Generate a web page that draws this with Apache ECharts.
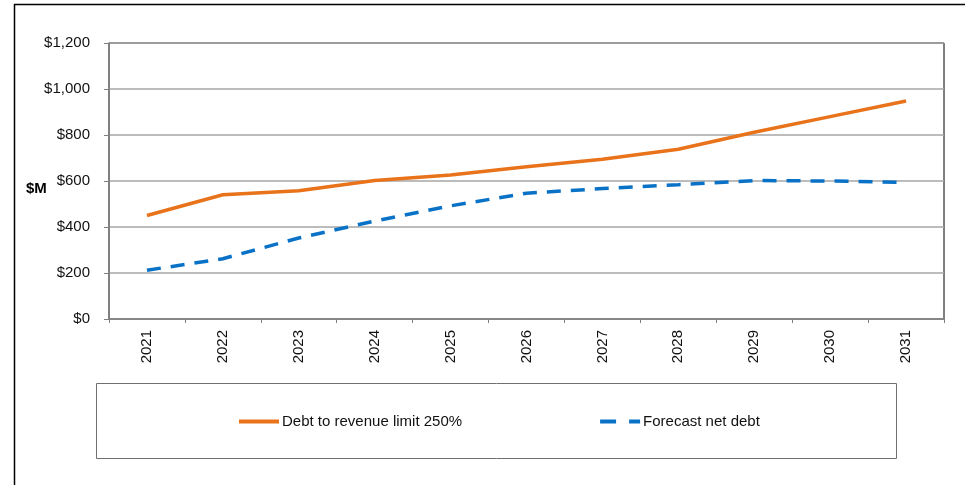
<!DOCTYPE html>
<html>
<head>
<meta charset="utf-8">
<script src="https://cdn.jsdelivr.net/npm/echarts@6/dist/echarts.min.js"></script>
<style>
  html, body { margin: 0; padding: 0; background: #fff; }
  #chart { width: 965px; height: 485px; }
</style>
</head>
<body>
<div id="chart"></div>
<script>
// Years on the category axis
const years = ['2021', '2022', '2023', '2024', '2025', '2026', '2027', '2028', '2029', '2030', '2031'];
// Debt ceiling at 250% of revenue ($M)
const debtLimit = [450, 540, 558, 602, 626, 662, 695, 738, 812, 880, 948];
// Projected net debt ($M)
const netDebt = [212, 262, 352, 426, 492, 547, 567, 584, 602, 600, 594];
// Value axis range and step
const yMin = 0, yMax = 1200, yStep = 200;

const chart = echarts.init(document.getElementById('chart'));
const font = 'Liberation Sans, Arial, sans-serif';

chart.setOption({
  animation: false,
  backgroundColor: '#fff',
  grid: { left: 109, top: 43, right: 21, bottom: 166, show: true, borderColor: '#000', borderWidth: 1, backgroundColor: 'transparent' },
  graphic: [
    { type: 'rect', shape: { x: 14.5, y: 4.5, width: 1000, height: 600 }, style: { fill: 'none', stroke: '#000', lineWidth: 1.5 }, silent: true },
    { type: 'rect', shape: { x: 96.5, y: 383.5, width: 800, height: 75 }, style: { fill: 'none', stroke: '#6f6f6f', lineWidth: 1 }, silent: true },
    { type: 'text', left: 26, top: 181, style: { text: '$M', font: 'bold 15px ' + font, fill: '#000' } }
  ],
  legend: {
    left: 234, top: 409, itemGap: 138, itemWidth: 40, itemHeight: 4,
    textStyle: { fontFamily: font, fontSize: 15, color: '#111', padding: [0, 0, 0, -2] },
    data: [
      { name: 'Debt to revenue limit 250%', icon: 'path://M0,0H40V4H0Z' },
      { name: 'Forecast net debt', icon: 'path://M0,0H16V4H0Z M29,0H40V4H29Z' }
    ]
  },
  xAxis: {
    type: 'category', data: years, boundaryGap: true,
    axisLine: { lineStyle: { color: '#808080', width: 1.5 } },
    axisTick: { show: true, length: 4, lineStyle: { color: '#808080' } },
    axisLabel: { rotate: 90, margin: 11, fontFamily: font, fontSize: 15, color: '#111' }
  },
  yAxis: {
    type: 'value', min: yMin, max: yMax, interval: yStep,
    axisLine: { show: true, lineStyle: { color: '#808080', width: 1.5 } },
    axisTick: { show: true, length: 5, lineStyle: { color: '#808080' } },
    splitLine: { lineStyle: { color: '#a6a6a6', width: 1.5 } },
    axisLabel: {
      margin: 19, fontFamily: font, fontSize: 15, color: '#111',
      formatter: v => '$' + v.toLocaleString('en-US')
    }
  },
  series: [
    {
      name: 'Debt to revenue limit 250%', type: 'line', data: debtLimit,
      showSymbol: false, symbol: 'none', color: '#E8731A',
      lineStyle: { width: 3.5, color: '#E8731A' }
    },
    {
      name: 'Forecast net debt', type: 'line', data: netDebt,
      showSymbol: false, symbol: 'none', color: '#0A72C6',
      lineStyle: { width: 3.5, color: '#0A72C6', type: [14, 10] }
    }
  ]
});
</script>
</body>
</html>
